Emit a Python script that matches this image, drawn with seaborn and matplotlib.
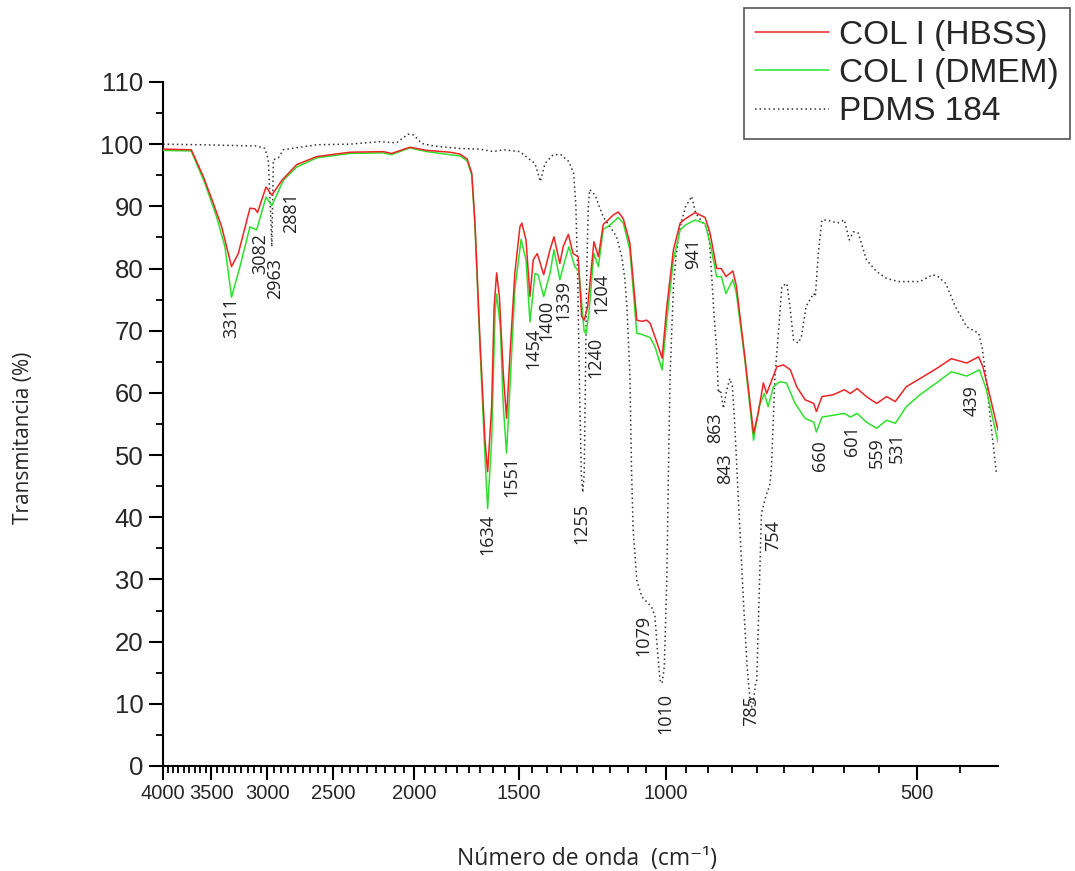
import numpy as np
import pandas as pd
import seaborn as sns
import matplotlib.pyplot as plt
from matplotlib.ticker import FixedLocator, FixedFormatter, NullFormatter

sns.set_style('ticks')
plt.rcParams['font.family'] = ['Liberation Sans', 'DejaVu Sans']
plt.rcParams['axes.unicode_minus'] = False

# COL I (HBSS) - número de onda / transmitancia
wn_hbss = [4000, 3700, 3579, 3482, 3402, 3311, 3250, 3147, 3104, 3082, 3011, 2963, 2881,
           2767, 2618, 2388, 2179, 2130, 2025, 1933, 1812, 1763, 1729, 1707, 1692, 1669,
           1646, 1634, 1616, 1605, 1594, 1582, 1565, 1551, 1537, 1516, 1495, 1487, 1470,
           1454, 1441, 1425, 1400, 1376, 1361, 1339, 1327, 1308, 1291, 1273, 1261, 1252,
           1240, 1219, 1204, 1188, 1172, 1156, 1140, 1124, 1104, 1083, 1068, 1054, 1044,
           1030, 1010, 997, 979, 961, 947, 922, 897, 885, 869, 858, 847, 831, 823, 804,
           785, 775, 764, 757, 736, 723, 709, 697, 681, 665, 660, 650, 630, 611, 601, 590,
           575, 559, 544, 531, 515, 496, 474, 455, 436, 422, 417, 400]
t_hbss = [99.2, 99.1, 94.8, 90.5, 86.7, 80.3, 82.4, 89.7, 89.6, 89.0, 93.1, 91.8, 94.2,
          96.7, 98.0, 98.7, 98.8, 98.5, 99.5, 99.0, 98.7, 98.4, 97.6, 95.3, 87.3, 68.5,
          52.4, 47.3, 57.8, 73.9, 79.3, 75.5, 63.1, 55.9, 65.8, 79.2, 86.7, 87.3, 84.6,
          75.5, 81.4, 82.4, 79.0, 83.0, 85.1, 80.8, 83.5, 85.5, 82.4, 81.9, 72.3, 71.7,
          73.9, 84.3, 81.9, 87.1, 87.8, 88.6, 89.1, 88.0, 84.1, 71.7, 71.5, 71.7, 71.2,
          69.0, 65.6, 73.9, 83.0, 87.3, 88.0, 89.0, 88.2, 85.7, 80.0, 80.0, 78.7, 79.6, 77.2, 65.8,
          53.5, 56.7, 61.6, 59.9, 64.2, 64.5, 63.7, 61.0, 58.9, 58.3, 57.0, 59.4, 59.7, 60.5, 59.9, 60.7,
          59.4, 58.3, 59.4, 58.6, 61.0, 62.3, 63.9, 65.5, 64.8, 65.8, 64.2, 54.0]

# COL I (DMEM)
wn_dmem = [4000, 3700, 3563, 3450, 3372, 3311, 3235, 3147, 3090, 3011, 2963, 2870, 2767,
           2618, 2388, 2179, 2130, 2025, 1933, 1812, 1763, 1729, 1707, 1692, 1669, 1646,
           1634, 1616, 1601, 1594, 1578, 1565, 1551, 1537, 1516, 1490, 1470, 1454, 1434,
           1422, 1400, 1376, 1361, 1339, 1320, 1306, 1285, 1270, 1252, 1245, 1236, 1219,
           1204, 1188, 1166, 1140, 1124, 1104, 1083, 1068, 1054, 1044, 1030, 1010, 997,
           979, 961, 947, 922, 897, 885, 869, 858, 847, 831, 823, 804, 785, 773, 762, 754,
           743, 730, 717, 700, 681, 665, 660, 650, 630, 611, 601, 590, 575, 559, 544, 531,
           515, 496, 474, 455, 436, 421, 413, 400]
t_dmem = [99.0, 98.9, 93.7, 88.3, 83.5, 75.4, 80.3, 86.7, 86.2, 91.5, 90.1, 94.2, 96.3,
          97.8, 98.5, 98.6, 98.3, 99.4, 98.8, 98.3, 98.1, 97.3, 95.0, 86.7, 67.4, 49.7,
          41.4, 52.4, 72.8, 75.9, 70.7, 57.8, 50.3, 60.5, 76.6, 84.7, 81.4, 71.4, 79.2,
          79.0, 75.5, 79.2, 83.0, 78.2, 81.4, 83.5, 80.3, 79.5, 69.8, 69.6, 72.8, 82.4,
          80.3, 86.3, 87.0, 88.2, 87.3, 83.0, 69.6, 69.4, 69.1, 68.9, 67.4, 63.7, 71.7,
          81.4, 86.2, 87.0, 87.8, 87.2, 84.1, 78.7, 78.7, 76.0, 78.2, 76.0, 65.3, 52.4, 57.8, 59.9, 57.8,
          61.0, 61.8, 61.6, 58.3, 55.9, 55.3, 53.7, 56.1, 56.4, 56.7, 56.1, 56.7, 55.3, 54.3, 55.6, 55.1,
          57.8, 59.7, 61.6, 63.4, 62.7, 63.7, 60.5, 52.1]

# PDMS 184
wn_pdms = [4000, 3612, 3090, 3019, 2992, 2975, 2963, 2955, 2950, 2910, 2870, 2618, 2388,
           2198, 2101, 2035, 2006, 1958, 1896, 1763, 1669, 1609, 1565, 1495, 1454, 1434,
           1413, 1395, 1364, 1335, 1306, 1289, 1281, 1275, 1268, 1262, 1257, 1252, 1248,
           1243, 1238, 1233, 1215, 1209, 1188, 1166, 1145, 1129, 1119, 1113, 1104, 1099,
           1094, 1083, 1068, 1040, 1030, 1024, 1016, 1010, 1004, 997, 993, 988, 979, 972,
           961, 947, 931, 921, 889, 885, 880, 875, 869, 865, 860, 853, 845, 838, 832, 826,
           820, 813, 806, 799, 793, 789, 786, 781, 778, 772, 768, 758, 754, 750, 747, 740,
           733, 726, 716, 710, 703, 694, 688, 679, 665, 662, 656, 650, 641, 623, 611, 603,
           596, 588, 575, 559, 544, 526, 496, 479, 472, 462, 450, 436, 422, 418, 414, 408, 402]
t_pdms = [100.0, 99.9, 99.7, 99.3, 97.5, 90.0, 83.5, 92.0, 97.5, 97.8, 99.1, 99.9, 100.0,
          100.4, 100.2, 101.6, 101.5, 100.1, 99.7, 99.3, 99.2, 98.8, 99.1, 98.8, 97.5, 96.9,
          94.0, 96.9, 98.3, 98.3, 97.2, 95.3, 89.9, 79.2, 60.0, 47.0, 44.0, 47.0, 62.0,
          80.0, 90.0, 92.7, 91.8, 91.0, 88.3, 86.7, 85.1, 81.9, 78.2, 73.9, 63.1, 48.0,
          38.0, 29.9, 27.2, 25.6, 24.0, 19.2, 13.8, 13.3, 15.9, 29.9, 46.0, 63.0, 77.0, 82.0,
          86.7, 89.9, 91.6, 88.9, 86.2, 83.0, 77.6, 72.3, 66.9, 60.0, 60.5, 57.5, 60.5, 62.3, 61.0, 54.0,
          45.0, 35.0, 25.0, 16.0, 11.0, 9.5, 10.0, 13.0, 13.8, 29.9, 40.6, 43.6, 44.4, 45.4, 48.1, 62.6,
          69.6, 77.1, 77.6, 73.9, 68.5, 68.0, 69.0, 73.9, 76.0, 75.5, 83.0, 87.8, 87.8, 87.3, 87.8, 84.6,
          85.9, 85.7, 81.4, 79.5, 78.4, 77.9, 77.9, 79.0, 78.7, 77.6, 73.9, 70.6, 69.6, 67.4, 63.1, 55.1, 47.3]

# etiquetas de bandas: texto, posición x (cm-1), y superior (%)
band_text = ['3311', '3082', '2963', '2881', '1634', '1551', '1454', '1400', '1339', '1255',
             '1240', '1204', '1079', '1010', '941', '863', '843', '785', '754', '660',
             '601', '559', '531', '439']
band_x = [3311, 3061, 2937, 2811, 1634, 1532, 1442, 1389, 1326, 1261,
          1213, 1193, 1064, 1002, 928, 872, 848, 790, 743, 654,
          599, 559, 529, 430]
band_y = [75.4, 85.7, 81.7, 92.3, 40.5, 49.9, 70.4, 74.9, 78.2, 42.3,
          69.0, 79.3, 24.3, 11.7, 84.9, 56.9, 50.3, 11.3, 39.6, 52.4,
          54.8, 52.9, 53.7, 61.3]

x_major = [4000, 3500, 3000, 2500, 2000, 1500, 1000, 500]
x_lim = (4000, 400)

hbss = pd.DataFrame({'wn': wn_hbss, 'T': t_hbss})
dmem = pd.DataFrame({'wn': wn_dmem, 'T': t_dmem})
pdms = pd.DataFrame({'wn': wn_pdms, 'T': t_pdms})

fig = plt.figure(figsize=(10.75, 8.71), dpi=100)
ax = fig.add_axes([0.1516, 0.1206, 0.7768, 0.7853])

sns.lineplot(data=pdms, x='wn', y='T', color='#333333', lw=1.1, linestyle=(0, (1, 2)),
             ax=ax, label='PDMS 184', zorder=2)
sns.lineplot(data=dmem, x='wn', y='T', color='#2ee02e', lw=1.1, ax=ax,
             label='COL I (DMEM)', zorder=3)
sns.lineplot(data=hbss, x='wn', y='T', color='#ee2424', lw=1.1, ax=ax,
             label='COL I (HBSS)', zorder=4)

ax.set_xscale('log')
ax.set_xlim(*x_lim)
ax.set_ylim(0, 110)

minor = []
for a, b in zip(x_major[:-1], x_major[1:]):
    minor += list(np.linspace(a, b, 10)[1:-1])
minor.append(x_major[-1] - (x_major[-2] - x_major[-1]) / 9)
ax.xaxis.set_major_locator(FixedLocator(x_major))
ax.xaxis.set_major_formatter(FixedFormatter([str(v) for v in x_major]))
ax.xaxis.set_minor_locator(FixedLocator(minor))
ax.xaxis.set_minor_formatter(NullFormatter())
ax.yaxis.set_major_locator(FixedLocator(np.arange(0, 111, 10)))
ax.yaxis.set_minor_locator(FixedLocator(np.arange(5, 110, 10)))

sns.despine(ax=ax)
for s in ['left', 'bottom']:
    ax.spines[s].set_linewidth(1.5)
    ax.spines[s].set_color('black')
ax.tick_params(which='major', direction='out', length=10, width=1.5, color='black')
ax.tick_params(which='minor', direction='out', length=5, width=1.3, color='black')
ax.tick_params(axis='y', which='major', labelsize=18.5, pad=4)
ax.tick_params(axis='x', which='major', labelsize=14.5, pad=3)

lab_font = ['Open Sans', 'DejaVu Sans']
ax.set_ylabel('Transmitancia (%)', fontsize=15, family=lab_font)
ax.set_xlabel('Número de onda  (cm⁻¹)', fontsize=16.5, family=lab_font)
ax.yaxis.set_label_coords(-0.155, 0.48)
ax.xaxis.set_label_coords(0.508, -0.118)

for txt, x, y in zip(band_text, band_x, band_y):
    ax.text(x, y, txt, rotation=90, ha='center', va='top', fontsize=13,
            family=lab_font, color='#222222')

handles, labels = ax.get_legend_handles_labels()
if ax.get_legend() is not None:
    ax.get_legend().remove()
order = [labels.index(n) for n in ['COL I (HBSS)', 'COL I (DMEM)', 'PDMS 184']]
leg = fig.legend([handles[i] for i in order], [labels[i] for i in order],
                 loc='upper right', bbox_to_anchor=(0.9953, 0.9908), fontsize=24,
                 frameon=True, fancybox=False, borderpad=0.35, labelspacing=0.22,
                 handlelength=2.2, handletextpad=0.3, borderaxespad=0)
leg.get_frame().set_edgecolor('#555555')
leg.get_frame().set_linewidth(1.2)
leg.get_frame().set_alpha(1)

fig.savefig('out.png', dpi=100)
